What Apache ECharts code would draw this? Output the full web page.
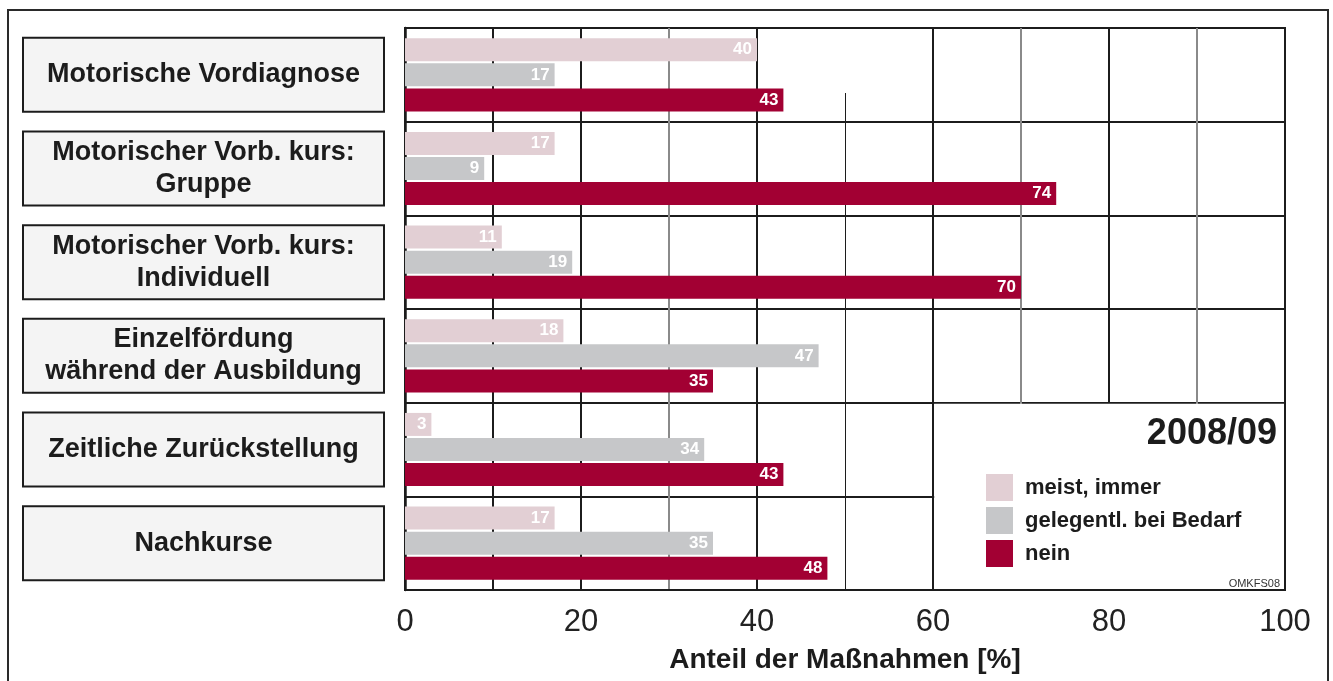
<!DOCTYPE html>
<html>
<head>
<meta charset="utf-8">
<script src="https://cdn.jsdelivr.net/npm/echarts@6/dist/echarts.min.js"></script>
<style>
  html, body { margin: 0; padding: 0; background: #ffffff; }
  #chart { width: 1333px; height: 681px; }
</style>
</head>
<body>
<div id="chart"></div>
<script>
// Measures (top to bottom) and their shares in percent
const categories = [
  'Motorische Vordiagnose',
  'Motorischer Vorb. kurs:\nGruppe',
  'Motorischer Vorb. kurs:\nIndividuell',
  'Einzelfördung\nwährend der Ausbildung',
  'Zeitliche Zurückstellung',
  'Nachkurse'
];
const seriesNames = ['meist, immer', 'gelegentl. bei Bedarf', 'nein'];
const meistImmer   = [40, 17, 11, 18, 3, 17];
const gelegentlich = [17, 9, 19, 47, 34, 35];
const nein         = [43, 74, 70, 35, 43, 48];

const xMin = 0, xMax = 100, xStep = 10, xLabelStep = 20;
const yearLabel = '2008/09';
const sourceCode = 'OMKFS08';
const axisTitle = 'Anteil der Maßnahmen [%]';

const FONT = '"Liberation Sans", Arial, Helvetica, sans-serif';
const INK = '#1c1c1c';
const colors = ['#e2cfd4', '#c6c7c9', '#a20033'];

// Vertical grid lines: dark on most, grey on 30/70/90; the 50 line is drawn separately
const gridLineColors = [INK, INK, INK, '#8a8a8a', INK, 'rgba(0,0,0,0)', INK, '#8a8a8a', INK, '#8a8a8a', INK];

const LINE_H = 32, BOX_H = 72;
const yData = categories.map(c => {
  const n = c.split('\n').length;
  const pad = (BOX_H - n * LINE_H) / 2;
  return { value: c, textStyle: { padding: [pad, 0, pad, 0] } };
});

function barSeries(name, data, color) {
  return {
    name: name,
    type: 'bar',
    data: data,
    barWidth: 23,
    barGap: '9%',
    itemStyle: { color: color },
    label: {
      show: true,
      position: 'insideRight',
      distance: 5,
      color: '#ffffff',
      fontFamily: FONT,
      fontWeight: 'bold',
      fontSize: 17
    },
    emphasis: { disabled: true },
    z: 3
  };
}

const chart = echarts.init(document.getElementById('chart'), null, { renderer: 'canvas' });

chart.setOption({
  backgroundColor: '#ffffff',
  animation: false,
  textStyle: { fontFamily: FONT },
  grid: {
    left: 405, right: 48, top: 28, bottom: 91,
    show: true, borderColor: INK, borderWidth: 2,
    backgroundColor: 'rgba(0,0,0,0)',
    containLabel: false,
    outerBoundsMode: 'none'
  },
  xAxis: {
    type: 'value',
    min: xMin, max: xMax, interval: xStep,
    axisLine: { show: true, lineStyle: { color: INK, width: 2 } },
    axisTick: { show: false },
    splitLine: { show: true, lineStyle: { color: gridLineColors, width: 2 } },
    axisLabel: {
      margin: 17,
      fontSize: 31,
      color: '#222222',
      fontFamily: FONT,
      formatter: v => (v % xLabelStep === 0 ? String(v) : '')
    },
    name: axisTitle,
    nameLocation: 'middle',
    nameGap: 56,
    nameTextStyle: { fontSize: 28, fontWeight: 'bold', color: INK, fontFamily: FONT }
  },
  yAxis: {
    type: 'category',
    inverse: true,
    data: yData,
    axisLine: { show: true, lineStyle: { color: INK, width: 2.5 } },
    axisTick: { show: false },
    splitLine: { show: true, lineStyle: { color: INK, width: 2 } },
    axisLabel: {
      margin: 22,
      width: 359,
      backgroundColor: '#f4f4f4',
      borderColor: INK,
      borderWidth: 2,
      formatter: v => v.split('\n').map(s => '{t|' + s + '}').join('\n'),
      rich: {
        t: {
          align: 'center',
          fontSize: 27,
          fontWeight: 'bold',
          lineHeight: LINE_H,
          color: INK,
          fontFamily: FONT
        }
      }
    }
  },
  legend: {
    orient: 'vertical',
    left: 986,
    top: 474,
    padding: 0,
    itemWidth: 27,
    itemHeight: 27,
    itemGap: 6,
    icon: 'rect',
    selectedMode: false,
    data: seriesNames,
    textStyle: { fontSize: 22, fontWeight: 'bold', color: INK, fontFamily: FONT, padding: [0, 0, 0, 7] },
    z: 10
  },
  title: [
    {
      text: yearLabel,
      right: 56, top: 416, padding: 0,
      textStyle: { fontSize: 36, fontWeight: 'bold', color: INK, fontFamily: FONT },
      z: 10
    },
    {
      text: sourceCode,
      right: 53, top: 578, padding: 0,
      textStyle: { fontSize: 11, fontWeight: 'normal', color: '#333333', fontFamily: FONT },
      z: 10
    }
  ],
  series: [
    barSeries(seriesNames[0], meistImmer, colors[0]),
    barSeries(seriesNames[1], gelegentlich, colors[1]),
    barSeries(seriesNames[2], nein, colors[2])
  ]
});

// Panel for the legend in the lower right cell block, the partial 50 line and the outer frame
const x50 = chart.convertToPixel({ xAxisIndex: 0 }, 50);
const x60 = chart.convertToPixel({ xAxisIndex: 0 }, 60);
const x100 = chart.convertToPixel({ xAxisIndex: 0 }, 100);
const c0 = chart.convertToPixel({ yAxisIndex: 0 }, 0);
const c1 = chart.convertToPixel({ yAxisIndex: 0 }, 1);
const band = Math.abs(c1 - c0);
const plotTop = c0 - band / 2;
const plotBottom = plotTop + band * categories.length;
const panelTop = chart.convertToPixel({ yAxisIndex: 0 }, 4) - band / 2;
const x50Crisp = Math.round(x50) + 0.5;

chart.setOption({
  graphic: [
    {
      type: 'rect',
      z: 1,
      silent: true,
      shape: { x: x60 + 1.2, y: panelTop + 1.2, width: x100 - x60 - 2.2, height: plotBottom - panelTop - 2.2 },
      style: { fill: '#ffffff' }
    },
    {
      type: 'line',
      z: 1,
      silent: true,
      shape: { x1: x50Crisp, y1: Math.round(plotTop + band * 0.69), x2: x50Crisp, y2: plotBottom },
      style: { stroke: INK, lineWidth: 1 }
    },
    {
      type: 'rect',
      z: 0,
      silent: true,
      shape: { x: 8, y: 10, width: 1320, height: 700 },
      style: { fill: 'none', stroke: '#2a2a2a', lineWidth: 2 }
    }
  ]
});
</script>
</body>
</html>
